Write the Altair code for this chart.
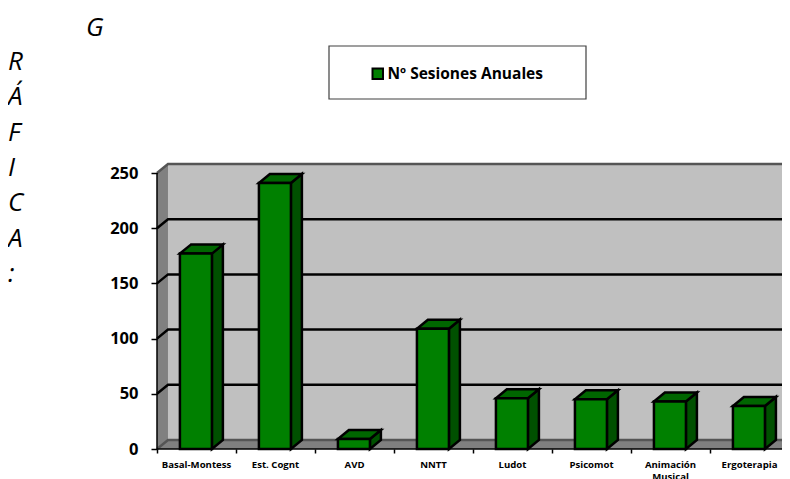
import altair as alt
import pandas as pd

categories = ["Basal-Montess", "Est. Cognt", "AVD", "NNTT", "Ludot", "Psicomot", "Animación\nMusical", "Ergoterapia"]
sessions = [177, 241, 9, 109, 46, 45, 43, 39]
y_ticks = [0, 50, 100, 150, 200, 250]
x_ticks = list(range(len(categories) + 1))
series_name = "Nº Sesiones Anuales"

DX, DY = 0.139, 8.15
BAR_L, BAR_R = 0.29, 0.695
X_MAX = 7.911
xs = alt.Scale(domain=[-1.886, X_MAX], nice=False, zero=False)
ys = alt.Scale(domain=[-27.17, 399.46], nice=False, zero=False)
x_axis = alt.Axis(values=x_ticks, orient="bottom", offset=-30, domain=False, grid=False, labels=False, title=None,
                  tickColor="#000000", tickWidth=1.5, tickSize=4, zindex=1)
y_axis = alt.Axis(values=y_ticks, orient="left", offset=-149, domain=False, grid=False, title=None,
                  tickColor="#000000", tickWidth=1.5, tickSize=6, labelPadding=13,
                  labelFont="Open Sans", labelFontWeight="bold", labelFontSize=16.5, labelColor="#000000", zindex=1)
X = lambda f="x": alt.X(f"{f}:Q", scale=xs, axis=x_axis)
Y = lambda f="y": alt.Y(f"{f}:Q", scale=ys, axis=y_axis)

# walls
back = alt.Chart(pd.DataFrame([{"x": DX, "x2": X_MAX, "y": DY, "y2": 250 + DY}])).mark_rect(
    fill="#c0c0c0").encode(x=X(), x2="x2:Q", y=Y(), y2="y2:Q")
left = alt.Chart(pd.DataFrame([{"x": 0, "y": 0, "y2": 250}, {"x": DX, "y": DY, "y2": 250 + DY}])).mark_area(
    fill="#808080", orient="vertical").encode(x=X(), y=Y(), y2="y2:Q")
floor = alt.Chart(pd.DataFrame([{"y": 0, "x": 0, "x2": X_MAX}, {"y": DY, "x": DX, "x2": X_MAX}])).mark_area(
    fill="#808080", orient="horizontal").encode(y=Y(), x=X(), x2="x2:Q")

# gridlines: slope on the left wall and run along the back wall
rows = []
for v in y_ticks:
    rows += [{"v": v, "x": 0, "y": v}, {"v": v, "x": DX, "y": v + DY}, {"v": v, "x": X_MAX, "y": v + DY}]
grid_df = pd.DataFrame(rows)
grid = alt.Chart(grid_df[grid_df.v.between(50, 200)]).mark_line(color="#000000", strokeWidth=2.5).encode(
    x=X(), y=Y(), detail="v:N")
edge = alt.Chart(grid_df[grid_df.v.isin([0, 250])]).mark_line(color="#555555", strokeWidth=2.5).encode(
    x=X(), y=Y(), detail="v:N")

# bars
side_rows, top_rows, front_rows = [], [], []
for i, (c, v) in enumerate(zip(categories, sessions)):
    side_rows += [{"c": c, "x": i + BAR_R, "y": 0, "y2": v},
                  {"c": c, "x": i + BAR_R + DX, "y": DY, "y2": v + DY}]
    top_rows += [{"c": c, "y": v, "x": i + BAR_L, "x2": i + BAR_R},
                 {"c": c, "y": v + DY, "x": i + BAR_L + DX, "x2": i + BAR_R + DX}]
    front_rows.append({"c": c, "s": series_name, "x": i + BAR_L, "x2": i + BAR_R, "y": 0, "y2": v})

side = alt.Chart(pd.DataFrame(side_rows)).mark_area(
    fill="#005000", stroke="#000000", strokeWidth=2.5, orient="vertical", strokeJoin="miter").encode(
    x=X(), y=Y(), y2="y2:Q", detail="c:N")
top = alt.Chart(pd.DataFrame(top_rows)).mark_area(
    fill="#006600", stroke="#000000", strokeWidth=2.5, orient="horizontal", strokeJoin="miter").encode(
    y=Y(), x=X(), x2="x2:Q", detail="c:N")

box = alt.Chart(pd.DataFrame([{"a": 1}])).mark_rect(fill="#ffffff", stroke="#404040", strokeWidth=1.2).encode(
    x=alt.value(321), x2=alt.value(578), y=alt.value(38), y2=alt.value(91))

front = alt.Chart(pd.DataFrame(front_rows)).mark_rect(stroke="#000000", strokeWidth=2.5).encode(
    x=X(), x2="x2:Q", y=Y(), y2="y2:Q",
    color=alt.Color("s:N", scale=alt.Scale(domain=[series_name], range=["#008000"]),
                    legend=alt.Legend(title=None, orient="none", legendX=362, legendY=58, symbolType="square",
                                      symbolSize=110, symbolStrokeColor="#000000", symbolStrokeWidth=2,
                                      symbolOpacity=1, labelFont="Open Sans", labelFontWeight="bold",
                                      labelFontSize=15.5, labelColor="#000000", labelOffset=2, labelLimit=260)))

baseline = alt.Chart(pd.DataFrame({"x": [0, X_MAX], "y": [0, 0]})).mark_line(color="#000000", strokeWidth=1.5).encode(
    x=X(), y=Y())
yline = alt.Chart(pd.DataFrame({"x": [0, 0], "y": [0, 250]})).mark_line(color="#000000", strokeWidth=1.5).encode(
    x=X(), y=Y())

labels = alt.Chart(pd.DataFrame({"c": categories, "x": [i + 0.5 for i in range(len(categories))]})).mark_text(
    font="Open Sans", fontWeight="bold", fontSize=9.6, color="#000000", lineBreak="\n", lineHeight=12,
    baseline="alphabetic", align="center").encode(x=X(), y=alt.value(460), text="c:N")

# cut-off page text around the chart
side_text = alt.Chart(pd.DataFrame({"t": ["R\nÁ\nF\nI\nC\nA\n:"]})).mark_text(
    font="Open Sans", fontStyle="italic", fontSize=26, color="#000000", lineBreak="\n", lineHeight=35.3,
    align="left", baseline="alphabetic").encode(x=alt.value(0), y=alt.value(62), text="t:N")
g_text = alt.Chart(pd.DataFrame({"t": ["G"]})).mark_text(
    font="Open Sans", fontStyle="italic", fontSize=26, color="#000000", align="left",
    baseline="alphabetic").encode(x=alt.value(78), y=alt.value(28), text="t:N")

chart = alt.layer(back, left, floor, grid, edge, box, side, top, front, baseline, yline,
                  labels, side_text, g_text).properties(
    width=774, height=471, padding=0, background="#ffffff", autosize=alt.AutoSizeParams(type="none")
).configure_view(stroke=None)

chart.save("out.html", embed_options={"renderer": "svg", "actions": False})
